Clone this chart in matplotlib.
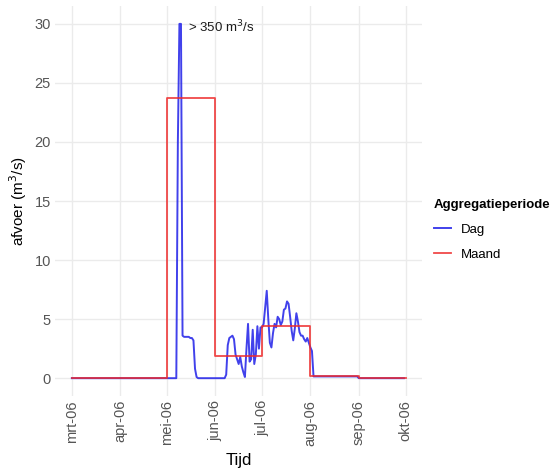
#!/usr/bin/env python3
# -*- coding: utf-8 -*-
import matplotlib

matplotlib.use("Agg")
import matplotlib.pyplot as plt
import numpy as np
import pandas as pd

# daily discharge (m3/s) per month, 2006
dag_mrt = [0.0] * 31
dag_apr = [0.0] * 30
dag_mei = [0.0] * 7 + [20.0, 356.0, 30.0, 3.6, 3.5, 3.5, 3.5, 3.5, 3.4, 3.4, 3.2,
                       0.8, 0.1] + [0.0] * 11
dag_jun = [0.0] * 7 + [0.3, 2.8, 3.4, 3.5, 3.6, 3.3, 2.0, 1.6, 1.2, 1.8, 1.0, 0.5,
                       0.1, 2.5, 4.6, 1.4, 1.6, 4.1, 1.2, 2.0, 4.4, 2.5, 4.3]
dag_jul = [4.3, 4.6, 6.0, 7.4, 5.0, 3.0, 2.6, 3.8, 4.6, 4.3, 5.2, 5.0, 4.5, 4.8,
           5.8, 5.9, 6.5, 6.3, 5.2, 4.0, 3.2, 4.2, 5.5, 4.8, 3.9, 3.6, 3.6, 3.3,
           3.1, 3.4, 3.0]
dag_aug = [2.6, 2.3] + [0.15] * 29
dag_sep = [0.0] * 30

# monthly means (m3/s), one value per month start
maand_start = ["2006-03-01", "2006-04-01", "2006-05-01", "2006-06-01",
               "2006-07-01", "2006-08-01", "2006-09-01", "2006-10-01"]
maand_afvoer = [0.0, 0.0, 23.7, 1.9, 4.4, 0.2, 0.0, 0.0]

tick_labels = ["mrt-06", "apr-06", "mei-06", "jun-06",
               "jul-06", "aug-06", "sep-06", "okt-06"]

y_max = 30
piek_label = "> 350 m$^3$/s"


def main() -> int:
    plt.rcParams["font.family"] = ["Liberation Sans", "DejaVu Sans"]

    dag = np.array(dag_mrt + dag_apr + dag_mei + dag_jun + dag_jul + dag_aug + dag_sep)
    dag_datum = pd.date_range("2006-03-01", periods=len(dag), freq="D")
    maand_datum = pd.to_datetime(maand_start)

    fig = plt.figure(figsize=(5.57, 4.73), dpi=100)
    ax = fig.add_axes([0.099, 0.163, 0.659, 0.824])

    # peak is far above the axis range, so cap the drawn line at the top
    ax.plot(dag_datum, np.minimum(dag, y_max), color="#2020e8", lw=1.4, alpha=0.85,
            label="Dag", zorder=3)
    ax.step(maand_datum, maand_afvoer, where="post", color="#ee2a2a", lw=1.3,
            alpha=0.85, label="Maand", zorder=4)

    piek = int(np.argmax(dag))
    ax.annotate(piek_label, xy=(dag_datum[piek], y_max), xytext=(6, -2),
                textcoords="offset points", ha="left", va="center", fontsize=9.5,
                color="#1a1a1a")

    span = maand_datum[-1] - maand_datum[0]
    pad = span * 0.05
    ax.set_xlim(maand_datum[0] - pad, maand_datum[-1] + pad)
    ax.set_ylim(-1.5, 31.5)
    ax.set_xticks(maand_datum)
    ax.set_xticklabels(tick_labels, rotation=90)
    ax.set_yticks(np.arange(0, 31, 5))

    ax.tick_params(length=0, labelsize=10.5, labelcolor="#555555", pad=3)
    ax.grid(True, color="#ebebeb", lw=1.0)
    ax.set_axisbelow(True)
    for s in ax.spines.values():
        s.set_visible(False)

    ax.set_xlabel("Tijd", fontsize=12, labelpad=5)
    ax.set_ylabel("afvoer (m$^3$/s)", fontsize=11, labelpad=4)

    leg = fig.legend(loc="upper left", bbox_to_anchor=(0.77, 0.59), frameon=False,
                     title="Aggregatieperiode", fontsize=9.5, handlelength=1.3,
                     labelspacing=0.95, handletextpad=0.7, borderaxespad=0)
    leg.get_title().set_fontweight("bold")
    leg.get_title().set_fontsize(9.5)
    leg._legend_box.align = "left"

    fig.savefig("out.png", dpi=100)
    plt.close(fig)
    return 0


if __name__ == "__main__":
    raise SystemExit(main())
